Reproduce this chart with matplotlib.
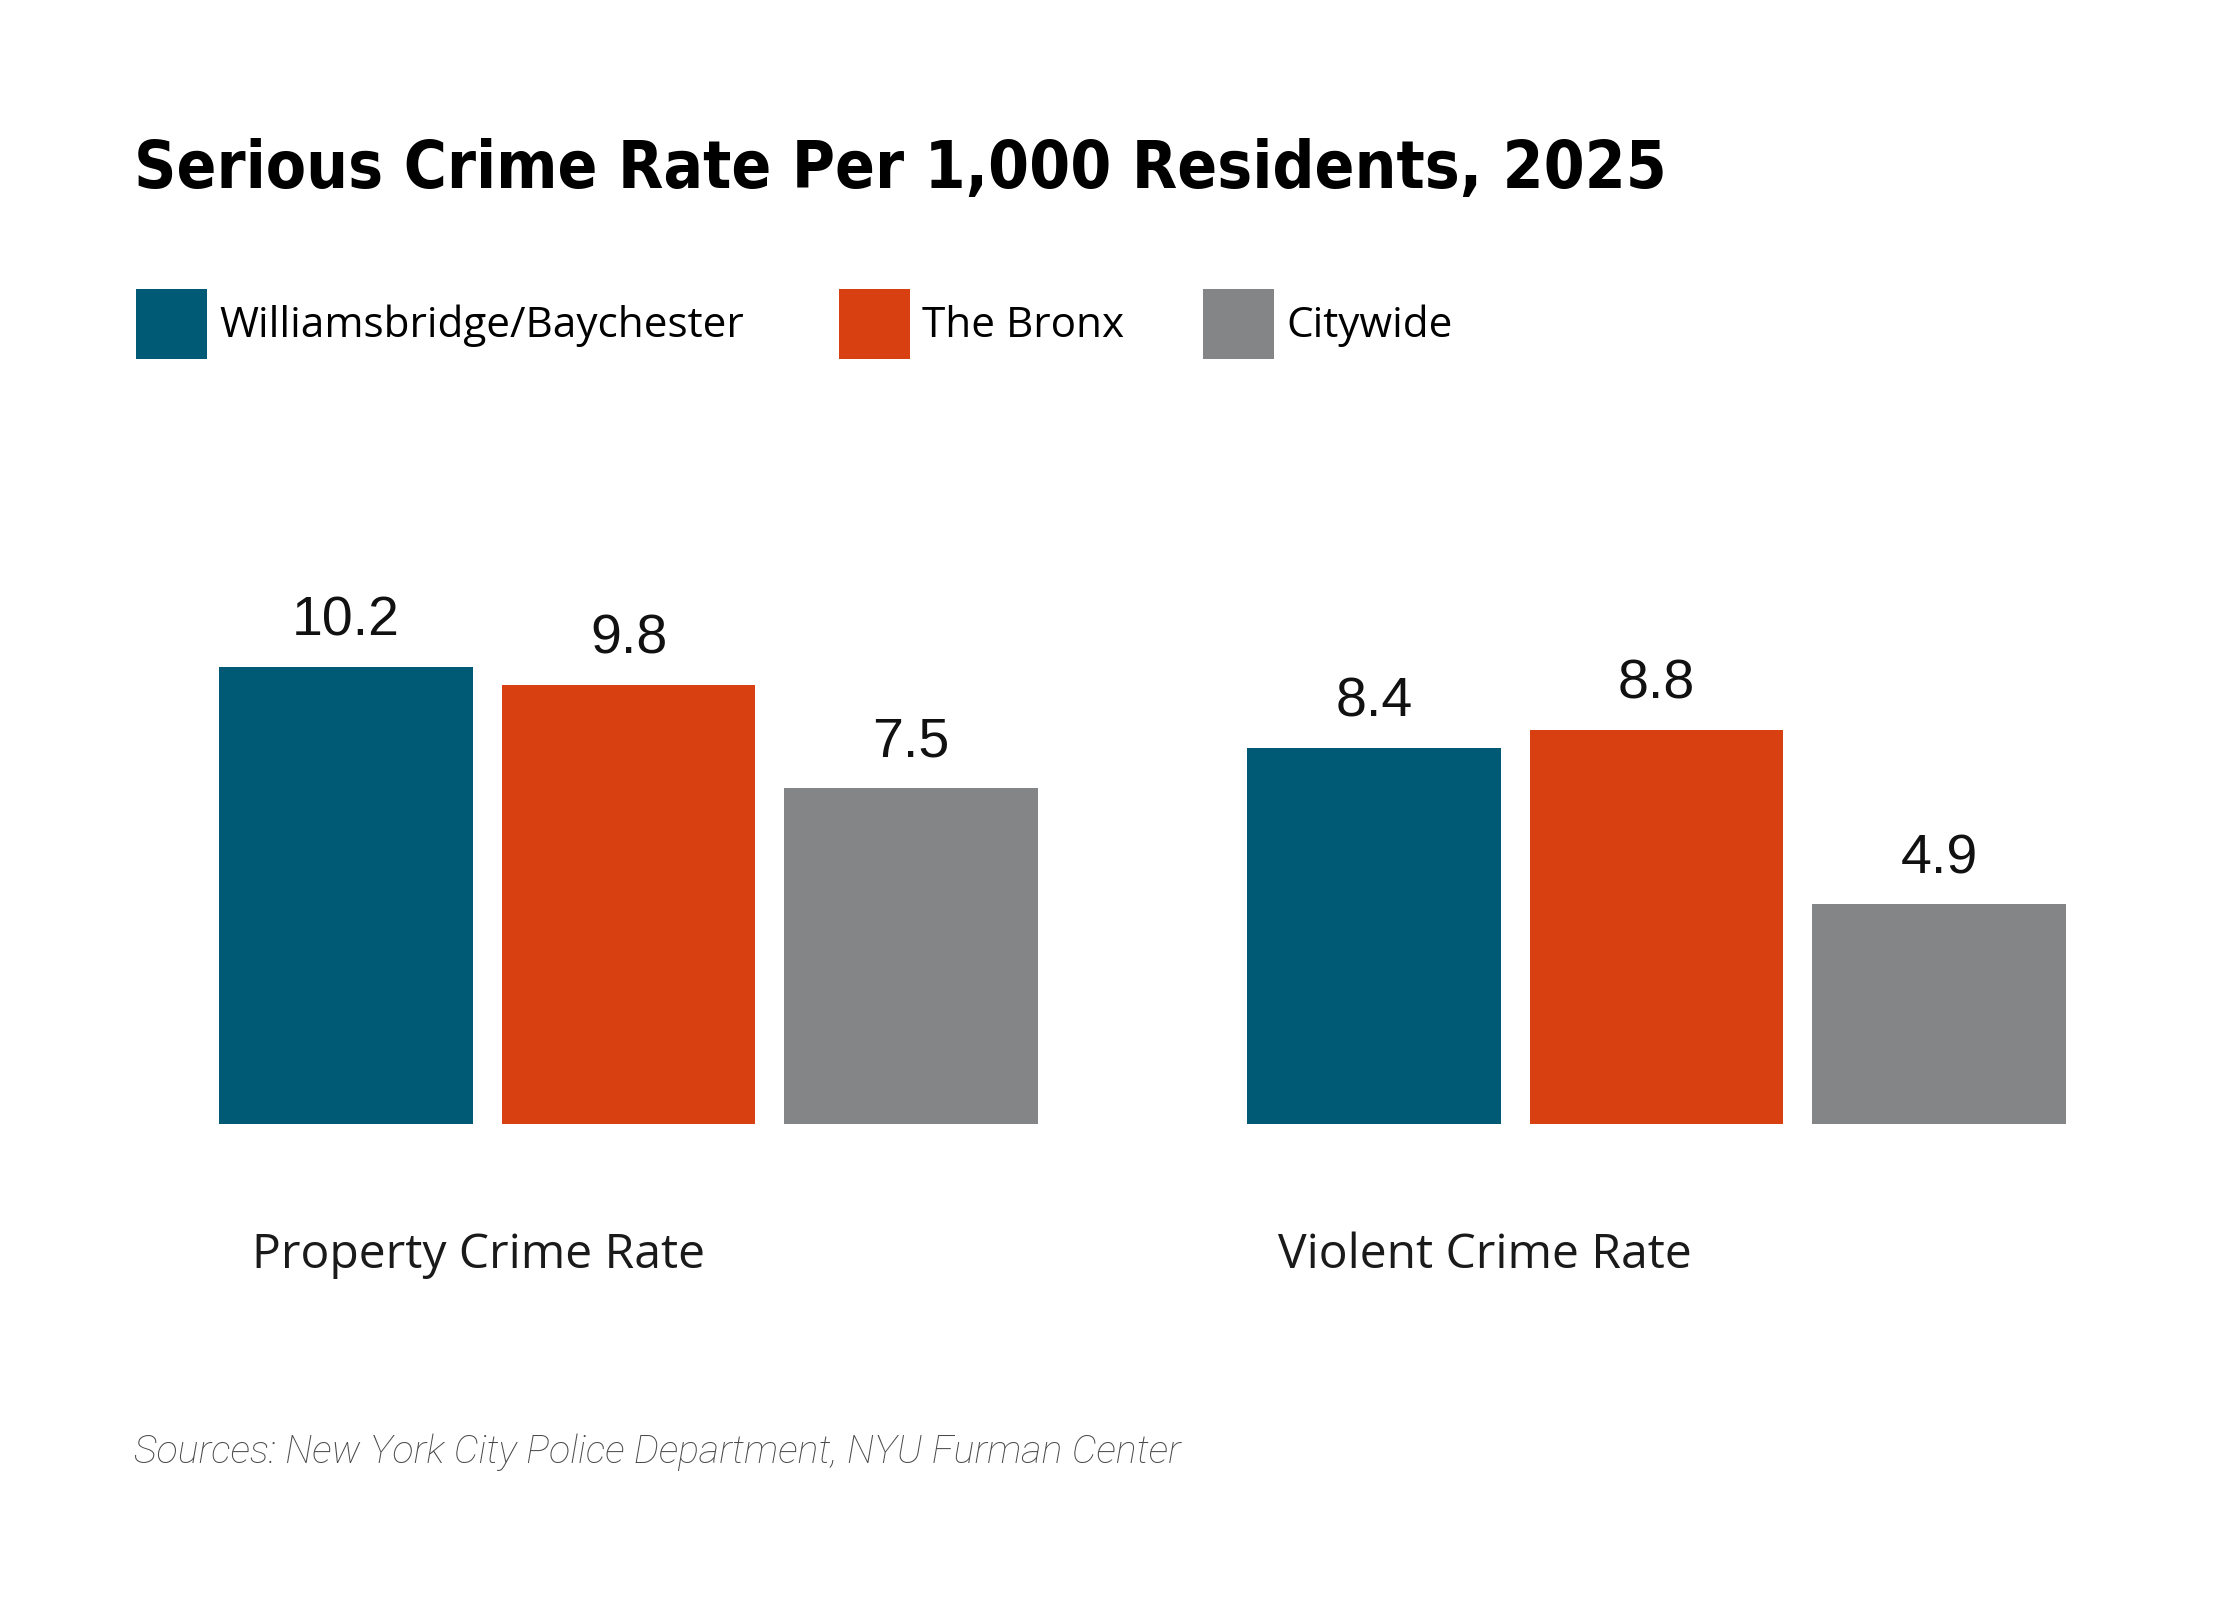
import matplotlib
matplotlib.use("Agg")
import matplotlib.pyplot as plt
from matplotlib.patches import Rectangle

# data
categories = ["Property Crime Rate", "Violent Crime Rate"]
series = ["Williamsbridge/Baychester", "The Bronx", "Citywide"]
values = {
    "Williamsbridge/Baychester": [10.2, 8.4],
    "The Bronx": [9.8, 8.8],
    "Citywide": [7.5, 4.9],
}
colors = ["#005A75", "#D84012", "#848587"]
title = "Serious Crime Rate Per 1,000 Residents, 2025"
source = "Sources: New York City Police Department, NYU Furman Center"

W, H = 2240, 1600
fig = plt.figure(figsize=(W / 200, H / 200), dpi=200)
fig.patch.set_facecolor("white")

# bar layout (in bar-width units)
bar_w = 1.0
step = 1.114
group_gap = 4.051

ax = fig.add_axes([219 / W, 1 - 1124 / H, 1847 / W, 12 * 44.8 / H])
for i, s in enumerate(series):
    for g, v in enumerate(values[s]):
        x = g * group_gap + i * step
        ax.bar(x, v, width=bar_w, align="edge", color=colors[i], linewidth=0)
        ax.annotate(f"{v:.1f}", (x + bar_w / 2, v), xytext=(0, 11.2),
                    textcoords="offset points", ha="center", va="baseline",
                    fontsize=20, family="Liberation Sans", color="#111111")
ax.set_xlim(0, group_gap + 2 * step + bar_w)
ax.set_ylim(0, 12)
ax.axis("off")

# category labels
for g, c in enumerate(categories):
    x_px = 252 + g * (1278 - 252)
    fig.text(x_px / W, 1 - 1268 / H, c, ha="left", va="baseline",
             fontsize=17.3, family="Open Sans", color="#1a1a1a")

# title
fig.text(134 / W, 1 - 188 / H, title, ha="left", va="baseline",
         fontsize=23.6, family="DejaVu Sans", fontstretch="condensed",
         fontweight="bold", color="black")

# legend
leg_x = [136, 839, 1203]
for i, s in enumerate(series):
    fig.patches.append(Rectangle((leg_x[i] / W, 1 - 359 / H), 71 / W, 70 / H,
                                 transform=fig.transFigure, color=colors[i],
                                 linewidth=0))
    fig.text((leg_x[i] + 83) / W, 1 - 337 / H, s, ha="left", va="baseline",
             fontsize=15.2, family="Open Sans", color="black")

# source
fig.text(134 / W, 1 - 1463 / H, source, ha="left", va="baseline",
         fontsize=14.2, family="Roboto", fontweight="light", style="italic",
         color="#4a4a4a")

plt.savefig("out.png", dpi=200, facecolor="white")
